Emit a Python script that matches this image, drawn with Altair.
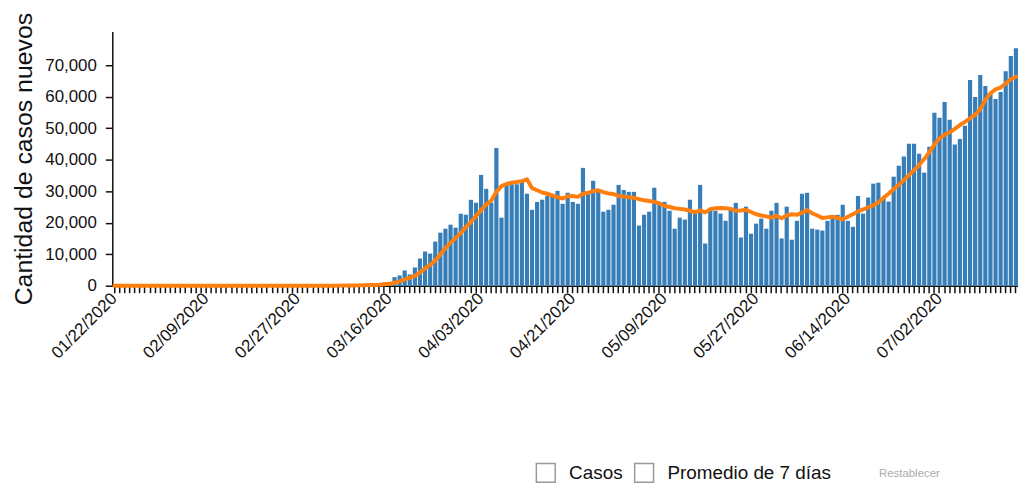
import altair as alt
import pandas as pd

# Daily new cases (bars), 01/22/2020 .. 07/17/2020
casos = [
    1, 0, 1, 0, 2, 0, 0, 0, 0, 1,
    1, 0, 1, 0, 0, 0, 0, 0, 1, 0, 1, 0, 0, 0, 0, 0, 0, 0, 0, 0, 1, 0, 3, 0, 0, 1, 0, 2, 5,
    8, 15, 25, 30, 60, 70, 95, 120, 150, 210, 290, 390, 450, 560,
    1050, 900,
    2740, 3260, 4840, 3580, 5790, 8630, 10850, 10210, 14000, 16850, 18110, 19380, 18430,
    22850, 22530, 27270, 26330, 35170, 30750, 26330, 43700,
    21600, 32000, 32200, 32200, 33300, 29200,
    24100, 26600, 27300, 28500, 28500, 30100, 26000, 29500, 26600, 26000, 37400, 29100,
    33300, 30100, 23500, 24100, 25700, 32000, 30400, 29800, 29800, 19100, 22500, 23500,
    31100, 26600, 26600, 23800, 18100, 21600, 21000, 27300, 22900,
    32000, 13400, 24700, 23800, 22900, 20600, 24100, 26300, 15300, 25100, 16500, 19700,
    21300, 18100, 23800, 26300, 15000, 25100, 14600, 20600, 29200, 29500, 18100, 17800,
    17500, 20600, 21900, 22500, 25700, 20600, 18700, 28500, 22900,
    28000, 32400, 32700, 28000, 26700, 34600, 38100, 41000, 45100, 45100, 41900, 35900,
    44100, 54900, 53300, 58300, 52700, 44800, 46600, 50800, 65300, 59900, 66900, 63400,
    61200, 59300, 61500, 68100, 72900, 75400,
]

# 7-day average (line), same days
promedio = [
    0, 0, 0, 0, 0, 0, 0, 0, 0, 0,
    0, 0, 0, 0, 0, 0, 0, 0, 0, 0,
    0, 0, 0, 0, 0, 0, 0, 0, 0, 0,
    0, 0, 0, 0, 1, 1, 1, 1, 2,
    2, 4, 7, 11, 19, 28, 42, 60, 80, 110, 150, 200, 260, 330,
    470, 600, 950, 1400, 2000, 2500, 3100, 4200, 5500, 6600,
    8000, 9900, 12000, 13600, 15200, 16700, 18600, 20200, 22100, 24000,
    25800, 27000, 29800, 31600, 32300, 32700, 32900, 33200, 33800, 31000,
    30300, 29600, 29200, 28700, 28100, 27700, 28400, 28500, 28200, 29200,
    29500, 30000, 30300, 29700, 29300, 29100, 28500, 28300, 28100, 27900,
    27500, 27100, 26900, 26600, 26100, 25400, 25000, 24600, 24400, 24200,
    23800, 23300, 23900, 23300, 24300, 24600, 24700, 24600, 24400, 23800,
    23900, 24100, 23400, 22700, 22300, 22000, 21600, 22200, 21400, 22300,
    22700, 22500, 23200, 24000, 23000, 22300, 21500, 21700, 21900, 21500,
    21100, 21900, 22700, 23600, 24200, 24900, 25500, 26400, 27900, 29200,
    30700, 32000, 33500, 35100, 36600, 38300, 40200, 42400, 44800, 46800,
    47900, 48700, 49800, 51000, 52000, 53100, 54300, 56000, 59000, 61100,
    62300, 62900, 64200, 65600, 66300,
]

# Labelled x ticks
etiquetas = ["01/22/2020", "02/09/2020", "02/27/2020", "03/16/2020", "04/03/2020",
             "04/21/2020", "05/09/2020", "05/27/2020", "06/14/2020", "07/02/2020"]
y_ticks = [0, 10000, 20000, 30000, 40000, 50000, 60000, 70000]
series = ["Casos", "Promedio de 7 días"]
colores = ["#377eb8", "#ff7f0e"]

fechas = list(pd.date_range("2020-01-22", periods=len(casos), freq="D").strftime("%m/%d/%Y"))

df = pd.DataFrame({"fecha": fechas, "casos": casos, "promedio": promedio})
df_leyenda = pd.DataFrame({"entrada": series})

FONT = "Liberation Sans, Arial, Helvetica, sans-serif"
lista = "[" + ",".join("'" + e + "'" for e in etiquetas) + "]"

x_axis = alt.Axis(
    title=None,
    labelExpr="indexof(" + lista + ", datum.value) >= 0 ? datum.value : ''",
    labelAngle=-45,
    labelAlign="right",
    labelBaseline="middle",
    labelPadding=3,
    labelFontSize=17,
    labelOverlap=False,
    labelColor="#111",
    tickSize=7,
    tickColor="#111",
    tickWidth=1.5,
    domainColor="#111",
    domainWidth=1.5,
    grid=False,
)
x_scale = alt.Scale(paddingInner=0.18, paddingOuter=0)

y_axis = alt.Axis(
    title="Cantidad de casos nuevos",
    values=y_ticks,
    format=",.0f",
    grid=False,
    labelOverlap=False,
    labelFontSize=17,
    labelColor="#111",
    labelPadding=9,
    tickSize=7,
    tickColor="#111",
    tickWidth=1.5,
    domainColor="#111",
    domainWidth=1.5,
    titleFontSize=25,
    titleFontWeight="normal",
    titleColor="#111",
    titlePadding=8,
)
y_scale = alt.Scale(domain=[0, 80700], nice=False)

leyenda = alt.Legend(
    orient="none",
    legendX=426,
    legendY=434,
    direction="horizontal",
    title="Restablecer",
    titleOrient="right",
    titleFontSize=11.5,
    titleFontWeight="normal",
    titleColor="#aaaaaa",
    titlePadding=48,
    titleBaseline="middle",
    titleLimit=300,
    symbolType="square",
    symbolSize=361,
    symbolOpacity=1,
    symbolStrokeWidth=1.5,
    labelFontSize=19,
    labelColor="#111",
    labelOffset=13,
    labelLimit=400,
    columnPadding=9,
)

barras = alt.Chart(df).mark_bar(color=colores[0]).encode(
    x=alt.X("fecha:N", sort=fechas, scale=x_scale, axis=x_axis),
    y=alt.Y("casos:Q", scale=y_scale, axis=y_axis),
)

linea = alt.Chart(df).mark_line(
    color=colores[1], strokeWidth=4, strokeJoin="round", strokeCap="round"
).encode(
    x=alt.X("fecha:N", sort=fechas, scale=x_scale, axis=x_axis),
    y=alt.Y("promedio:Q", scale=y_scale, axis=y_axis),
)

# legend-only layer (checkbox-like squares); its own marks are fully transparent
casillas = alt.Chart(df_leyenda).mark_point(
    filled=True, fill="white", stroke="#999999", strokeWidth=1.5, opacity=0, size=361
).encode(
    shape=alt.Shape("entrada:N", scale=alt.Scale(domain=series, range=["square", "square"]),
                    legend=leyenda),
)

chart = alt.layer(barras, linea, casillas).properties(
    width=912,
    height=256,
    autosize=alt.AutoSizeParams(type="none"),
    padding={"left": 105, "top": 22, "right": 0, "bottom": 197},
).configure(font=FONT).configure_view(stroke=None)

chart.save("out.html", embed_options={"renderer": "svg", "actions": False})
